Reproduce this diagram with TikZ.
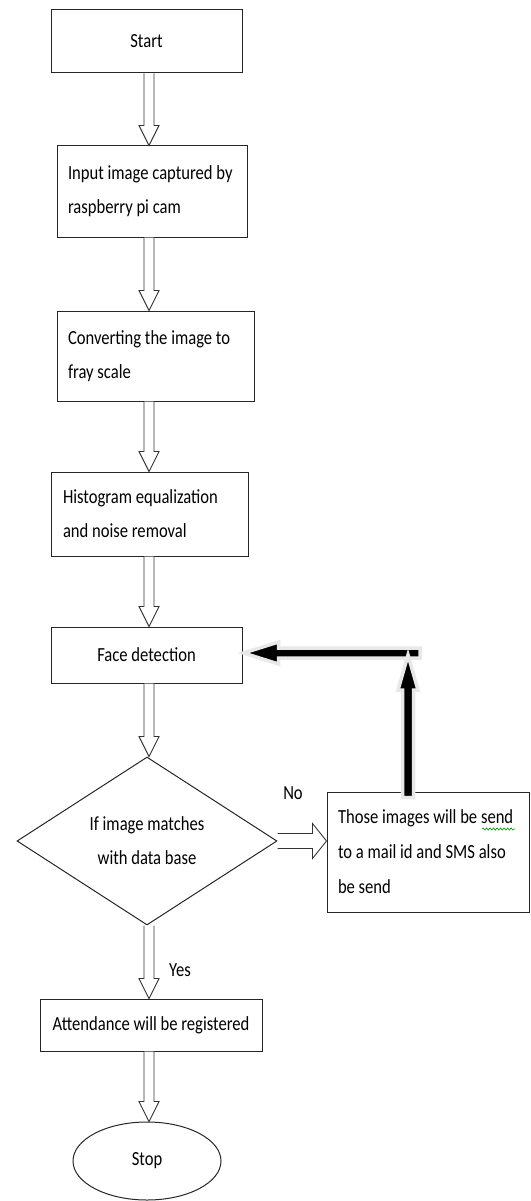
\documentclass[tikz,border=0pt]{standalone}
\usepackage{fontspec}
\setmainfont{Carlito}[FakeStretch=0.83]
\usetikzlibrary{shapes.geometric,calc,decorations.pathmorphing}
\newcommand\natsp{\spaceskip=0pt\xspaceskip=0pt\relax}
\newcommand\hollowdown[2]{%
  \draw[hollow] let \p0=(ax), \p1=(#1), \p2=(#2) in
    (\x0-5,\y1) -- (\x0-5,\y2+20) -- (\x0-10,\y2+20) -- (\x0,\y2)
    -- (\x0+10,\y2+20) -- (\x0+5,\y2+20) -- (\x0+5,\y1);}
\begin{document}
\begin{tikzpicture}[x=1pt,y=1pt,
  box/.style={draw=black!85, line width=1pt, rectangle, inner sep=0pt,
    font=\fontsize{20}{34}\selectfont},
  lbox/.style={box, align=left, inner xsep=11pt},
  cbox/.style={box, align=center},
  hollow/.style={draw=black!80, line width=0.9pt, fill=white},
  solidarrow/.style={fill=black, draw=black!9, line width=3.5pt, line join=miter},
  lbl/.style={font=\fontsize{20}{24}\selectfont, inner sep=0pt}
]
\useasboundingbox (0,0) rectangle (530,-1201);
\coordinate (ax) at (149,0);

% nodes
\node[cbox, minimum width=191pt, minimum height=63pt] (start) at (146.5,-41.5) {Start};
\node[lbox, text width=168pt, minimum height=91pt] (input) at (152,-191.5)
  {\natsp\mbox{Input image captured by}\\\mbox{raspberry pi cam}};
\node[lbox, text width=175pt, minimum height=90pt] (conv) at (155.5,-356)
  {\natsp\mbox{Converting the image to}\\\mbox{fray scale}};
\node[box, align=left, inner xsep=12pt, text width=173pt, minimum height=84pt] (hist) at (149.5,-514)
  {\natsp\mbox{Histogram equalization}\\\mbox{and noise removal}};
\node[cbox, minimum width=191pt, minimum height=56pt] (face) at (146.5,-655) {Face detection};
\node[draw=black!85, line width=1pt, diamond, aspect=1.55, inner sep=0pt,
  minimum width=260pt, minimum height=168pt, align=center,
  font=\fontsize{20}{34}\selectfont] (dia) at (147,-841)
  {If image matches\\with data base};
\node[lbox, text width=180pt, minimum height=120pt, font=\fontsize{20}{35}\selectfont] (mail) at (428,-852)
  {\natsp\mbox{Those images will be send}\\\mbox{to a mail id and SMS also}\\\mbox{be send}};
\node[cbox, minimum width=222pt, minimum height=52pt] (att) at (151,-1025)
  {Attendance will be registered};
\node[draw=black!85, line width=1pt, ellipse, inner sep=0pt,
  minimum width=148pt, minimum height=78pt,
  font=\fontsize{20}{24}\selectfont] (stop) at (147,-1161) {\raisebox{3pt}{Stop}};

\node[lbl] (no) at (293,-793) {No};
\node[lbl] (yes) at (180,-970) {Yes};

% spell-check underline
\draw[green!60!black, line width=0.6pt, decorate,
  decoration={snake, amplitude=1.1pt, segment length=3.5pt}] (482,-829) -- (515,-829);

% hollow arrows
\hollowdown{start.south}{input.north}
\hollowdown{input.south}{conv.north}
\hollowdown{conv.south}{hist.north}
\hollowdown{hist.south}{face.north}
\hollowdown{face.south}{dia.north}
\hollowdown{dia.south}{att.north}
\hollowdown{att.south}{stop.north}

\draw[hollow] let \p1=(dia.east), \p2=(mail.west) in
  (\x1,\y1+7.5) -- (\x2-14,\y1+7.5) -- (\x2-14,\y1+17.5) -- (\x2,\y1)
  -- (\x2-14,\y1-17.5) -- (\x2-14,\y1-7.5) -- (\x1,\y1-7.5);

% thick feedback arrows
\coordinate (corner) at (408,-653);
\draw[solidarrow] let \p1=(corner), \p2=(face.east) in
  (\x1+12,\y1+5) -- (\x2+36,\y1+5) -- (\x2+36,\y1+11) -- (\x2+1,\y1)
  -- (\x2+36,\y1-11) -- (\x2+36,\y1-5) -- (\x1+12,\y1-5) -- cycle;
\draw[solidarrow] let \p1=(corner), \p2=(mail.north) in
  (\x1-5.5,\y2-6) -- (\x1-5.5,\y1-37) -- (\x1-10,\y1-37) -- (\x1,\y1-2)
  -- (\x1+10,\y1-37) -- (\x1+5.5,\y1-37) -- (\x1+5.5,\y2-6) -- cycle;
\end{tikzpicture}
\end{document}
